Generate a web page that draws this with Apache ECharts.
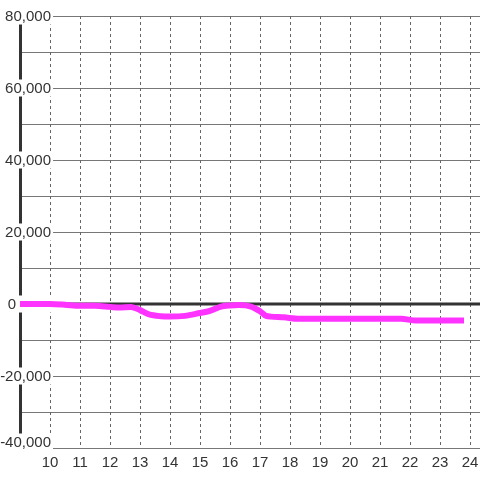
<!DOCTYPE html>
<html>
<head>
<meta charset="utf-8">
<script src="https://cdn.jsdelivr.net/npm/echarts@6/dist/echarts.min.js"></script>
<style>
  html, body { margin: 0; padding: 0; background: #fff; }
  #main { width: 480px; height: 480px; }
</style>
</head>
<body>
<div id="main"></div>
<script>
// hours of the day and the series value at each one
var hours = [9, 10, 10.5, 11, 11.5, 12, 12.3, 12.7, 13, 13.3, 13.7, 14, 14.5, 15, 15.3, 15.7, 16, 16.3, 16.7, 17, 17.2, 17.8, 18.3, 19, 20, 21, 21.7, 22.2, 23, 23.8];
var values = [0, 0, -200, -500, -500, -800, -1000, -800, -1700, -2900, -3400, -3500, -3300, -2500, -2000, -700, -400, -300, -700, -2000, -3300, -3700, -4100, -4100, -4100, -4100, -4100, -4600, -4600, -4600];
var zeroLine = [[9, 0], [24.333, 0]];

var seriesData = hours.map(function (h, i) { return [h, values[i]]; });

var chart = echarts.init(document.getElementById('main'));
var font = 'Liberation Sans, Arial, sans-serif';

var option = {
  backgroundColor: '#fff',
  animation: false,
  grid: { left: 20, right: 0, top: 16, bottom: 32, containLabel: false, outerBoundsMode: 'none' },
  xAxis: {
    type: 'value',
    min: 9,
    max: 24.333,
    interval: 1,
    axisLine: { show: false },
    axisTick: { show: false },
    axisLabel: {
      color: '#333',
      fontSize: 15,
      fontFamily: font,
      margin: 7,
      showMinLabel: false,
      showMaxLabel: false,
      formatter: function (v) { return Number.isInteger(v) ? String(v) : ''; }
    },
    splitLine: { show: true, lineStyle: { color: '#666', type: [3, 3], width: 1 } }
  },
  yAxis: {
    type: 'value',
    min: -40000,
    max: 80000,
    interval: 20000,
    axisLine: { show: true, lineStyle: { color: '#333', width: 3 } },
    axisTick: { show: false },
    axisLabel: {
      color: '#333',
      fontSize: 15,
      fontFamily: font,
      align: 'right',
      margin: -33,
      backgroundColor: '#fff',
      padding: [2, 2, 0, 2],
      formatter: function (v) {
        if (v === 0) return '{z|0}';
        if (v === -40000) return '{b|-40,000}';
        return v.toLocaleString('en-US');
      },
      rich: {
        z: { color: '#333', fontSize: 15, fontFamily: font, padding: [0, 35, 0, 0] },
        b: { color: '#333', fontSize: 15, fontFamily: font, padding: [0, 0, 12, 0] }
      }
    },
    splitLine: { show: true, lineStyle: { color: '#777', width: 1 } },
    minorTick: { show: false, splitNumber: 2 },
    minorSplitLine: { show: true, lineStyle: { color: '#777', width: 1 } }
  },
  series: [
    {
      type: 'line',
      data: zeroLine,
      symbol: 'none',
      silent: true,
      z: 1,
      lineStyle: { color: '#333', width: 3 }
    },
    {
      type: 'line',
      data: seriesData,
      symbol: 'none',
      smooth: 0.3,
      z: 2,
      lineStyle: { color: '#ff33ff', width: 6 }
    }
  ]
};

chart.setOption(option);
</script>
</body>
</html>
